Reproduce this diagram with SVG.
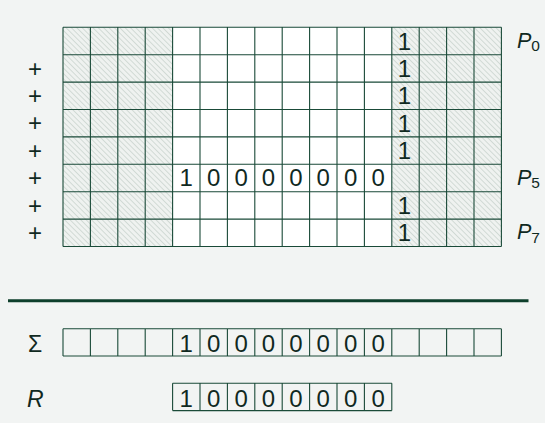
<svg xmlns="http://www.w3.org/2000/svg" width="545" height="423" viewBox="0 0 545 423">
<defs>
<pattern id="hatch" patternUnits="userSpaceOnUse" width="3.8" height="3.8" patternTransform="rotate(-45)">
<rect width="3.8" height="3.8" fill="#eff2f0"/>
<line x1="0.5" y1="0" x2="0.5" y2="3.8" stroke="#c3cfc9" stroke-width="0.7"/>
</pattern>
</defs>
<style>
.g{stroke:#1a4a38;stroke-width:1.1;fill:none}
.t{font-family:"Liberation Sans",Arial,sans-serif;fill:#10291f}
.d{font-size:24px;text-anchor:middle}
.pl{font-size:21.5px}
</style>
<rect width="545" height="423" fill="#f2f4f3"/>
<g id="matrix">
<rect x="63" y="27.3" width="438.4" height="219.2" fill="#ffffff"/>
<rect x="63" y="27.3" width="109.6" height="219.2" fill="url(#hatch)"/>
<rect x="391.8" y="27.3" width="109.6" height="219.2" fill="url(#hatch)"/>
<path class="g" d="M63,27.3H501.4M63,54.7H501.4M63,82.1H501.4M63,109.5H501.4M63,136.9H501.4M63,164.3H501.4M63,191.7H501.4M63,219.1H501.4M63,246.5H501.4
M63,27.3V246.5M90.4,27.3V246.5M117.8,27.3V246.5M145.2,27.3V246.5M172.6,27.3V246.5M200,27.3V246.5M227.4,27.3V246.5M254.8,27.3V246.5M282.2,27.3V246.5M309.6,27.3V246.5M337,27.3V246.5M364.4,27.3V246.5M391.8,27.3V246.5M419.2,27.3V246.5M446.6,27.3V246.5M474,27.3V246.5M501.4,27.3V246.5"/>
<g class="t d" fill="#2f5a48">
<text x="404.5" y="49.5">1</text>
<text x="404.5" y="76.9">1</text>
<text x="404.5" y="104.3">1</text>
<text x="404.5" y="131.7">1</text>
<text x="404.5" y="159.1">1</text>
<text x="404.5" y="213.9">1</text>
<text x="404.5" y="241.3">1</text>
</g>
<g class="t d">
<text x="186.3" y="186.3">1</text>
<text x="213.7" y="186.3">0</text>
<text x="241.1" y="186.3">0</text>
<text x="268.5" y="186.3">0</text>
<text x="295.9" y="186.3">0</text>
<text x="323.3" y="186.3">0</text>
<text x="350.7" y="186.3">0</text>
<text x="378.1" y="186.3">0</text>
</g>
</g>
<g id="plus-signs" class="t" font-size="24" text-anchor="middle">
<text x="35" y="76.6">+</text>
<text x="35" y="104">+</text>
<text x="35" y="131.4">+</text>
<text x="35" y="158.8">+</text>
<text x="35" y="186.2">+</text>
<text x="35" y="213.6">+</text>
<text x="35" y="241">+</text>
</g>
<g id="row-labels" class="t pl">
<text x="517" y="47.5"><tspan font-style="italic">P</tspan><tspan font-size="15.5" dy="3.4">0</tspan></text>
<text x="517" y="184.5"><tspan font-style="italic">P</tspan><tspan font-size="15.5" dy="3.4">5</tspan></text>
<text x="517" y="239.3"><tspan font-style="italic">P</tspan><tspan font-size="15.5" dy="3.4">7</tspan></text>
</g>
<g id="connectors">
<line x1="8" y1="300.7" x2="528.5" y2="300.7" stroke="#0e3f2b" stroke-width="3"/>
</g>
<g id="sum">
<text class="t" x="35" y="351.8" font-size="23" text-anchor="middle">Σ</text>
<path class="g" d="M63,328.7H501.4M63,356H501.4M63,328.7V356M90.4,328.7V356M117.8,328.7V356M145.2,328.7V356M172.6,328.7V356M200,328.7V356M227.4,328.7V356M254.8,328.7V356M282.2,328.7V356M309.6,328.7V356M337,328.7V356M364.4,328.7V356M391.8,328.7V356M419.2,328.7V356M446.6,328.7V356M474,328.7V356M501.4,328.7V356"/>
<g class="t d">
<text x="186.3" y="351.9">1</text>
<text x="213.7" y="351.9">0</text>
<text x="241.1" y="351.9">0</text>
<text x="268.5" y="351.9">0</text>
<text x="295.9" y="351.9">0</text>
<text x="323.3" y="351.9">0</text>
<text x="350.7" y="351.9">0</text>
<text x="378.1" y="351.9">0</text>
</g>
</g>
<g id="result">
<text class="t" x="27" y="407" font-size="23" font-style="italic">R</text>
<path class="g" d="M172.6,383.3H391.8M172.6,410.6H391.8M172.6,383.3V410.6M200,383.3V410.6M227.4,383.3V410.6M254.8,383.3V410.6M282.2,383.3V410.6M309.6,383.3V410.6M337,383.3V410.6M364.4,383.3V410.6M391.8,383.3V410.6"/>
<g class="t d">
<text x="186.3" y="406.6">1</text>
<text x="213.7" y="406.6">0</text>
<text x="241.1" y="406.6">0</text>
<text x="268.5" y="406.6">0</text>
<text x="295.9" y="406.6">0</text>
<text x="323.3" y="406.6">0</text>
<text x="350.7" y="406.6">0</text>
<text x="378.1" y="406.6">0</text>
</g>
</g>
</svg>
